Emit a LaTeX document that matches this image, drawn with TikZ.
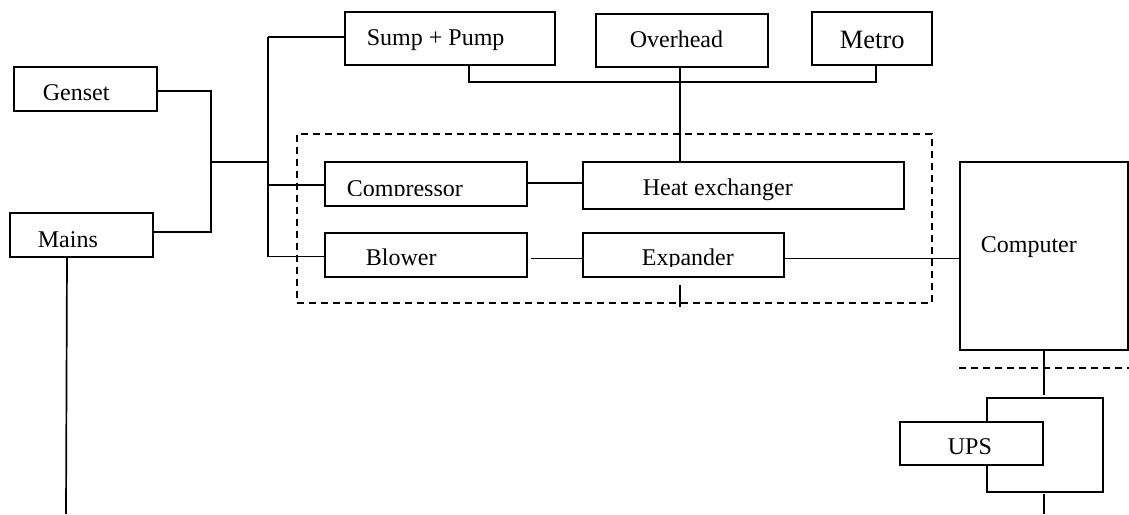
\documentclass[tikz,border=0pt]{standalone}
\usepackage{fontspec}
\setmainfont{Liberation Serif}
\begin{document}
\begin{tikzpicture}[x=1pt,y=-1pt,
  line width=1.7pt,
  box/.style={draw, rectangle, inner sep=0pt, outer sep=0pt, anchor=north west},
  upsbox/.style={box, fill=white},
  dashbox/.style={draw, rectangle, inner sep=0pt, outer sep=0pt, anchor=north west, dash pattern=on 7pt off 5pt},
  lbl/.style={anchor=base west, inner sep=0pt, font=\fontsize{24}{28}\selectfont},
  biglbl/.style={lbl, font=\fontsize{26.5}{30}\selectfont}]
\useasboundingbox (0,0) rectangle (1129,514);

% plant boundary
\node[dashbox, minimum width=635pt, minimum height=169pt] (plant) at (297,134) {};

% boxes
\node[box, minimum width=143pt, minimum height=44pt] (genset) at (14,67) {};
\node[box, minimum width=143pt, minimum height=44pt] (mains) at (10,213) {};
\node[box, minimum width=210pt, minimum height=53pt] (sump) at (345,12) {};
\node[box, minimum width=172pt, minimum height=53pt] (overhead) at (596,14) {};
\node[box, minimum width=120pt, minimum height=53pt] (metro) at (812,12) {};
\node[box, minimum width=202pt, minimum height=44pt] (compressor) at (325,162) {};
\node[box, minimum width=321pt, minimum height=47pt] (heat) at (583,162) {};
\node[box, minimum width=202pt, minimum height=44pt] (blower) at (325,233) {};
\node[box, minimum width=201pt, minimum height=44pt] (expander) at (583,233) {};
\node[box, minimum width=168pt, minimum height=188pt] (computer) at (960,162) {};
\node[box, minimum width=116pt, minimum height=94pt] (bypass) at (987,398) {};
\node[upsbox, minimum width=143pt, minimum height=43pt] (ups) at (900,422) {};

% labels
\node[lbl] (gensetlbl) at (42,100) {Genset};
\node[lbl] (mainslbl) at (37,247) {Mains};
\node[lbl] (sumplbl) at (366,45) {Sump + Pump};
\node[lbl] (overheadlbl) at (629,47) {Overhead};
\node[biglbl] (metrolbl) at (839,48) {Metro};
\begin{scope}
  \clip (325,150) rectangle (527,195.5);
  \node[lbl] (compressorlbl) at (346,196) {Compressor};
\end{scope}
\node[lbl] (heatlbl) at (642,195) {Heat exchanger};
\node[lbl] (blowerlbl) at (365,265) {Blower};
\begin{scope}
  \clip (583,220) rectangle (784,266);
  \node[lbl] (expanderlbl) at (641,265) {Expander};
\end{scope}
\node[lbl] (computerlbl) at (980,252) {Computer};
\node[lbl] (upslbl) at (947,454) {UPS};

% junction points
\coordinate (busA) at (211,162);
\coordinate (busB) at (268,162);
\coordinate (waterbus) at (680,82);
\coordinate (mainsend) at (66,514);
\coordinate (sepL) at (959,368);
\coordinate (sepR) at (1129,368);
\coordinate (upsout) at (1044,514);

% power feed
\draw ([yshift=-2pt]genset.east) -- ([yshift=-2pt]genset.east -| busA)
      -- ([yshift=3pt]mains.east -| busA) -- ([yshift=3pt]mains.east);
\draw (busA) -- (busB);
\draw ([yshift=1.5pt]sump.west -| busB) -- ([yshift=-1.5pt]blower.west -| busB);
\draw ([yshift=1.5pt]sump.west -| busB) -- ([yshift=1.5pt]sump.west);
\draw ([yshift=-1pt]compressor.west -| busB) -- ([yshift=-1pt]compressor.west);
\draw ([yshift=-1.5pt]blower.west -| busB) -- ([yshift=-1.5pt]blower.west);
\draw ([xshift=57pt]mains.south west) -- (mainsend);

% water supply
\draw ([xshift=124pt]sump.south west) |- (waterbus) -| ([xshift=4pt]metro.south);
\draw ([xshift=-2pt]overhead.south) -- ([xshift=-2pt]overhead.south |- heat.north);

% plant links
\draw ([yshift=1pt]compressor.east) -- ([yshift=1pt]compressor.east -| heat.west);
\draw ([shift={(4pt,-3.5pt)}]blower.east) -- ([yshift=-3.5pt]expander.west);
\draw ([yshift=-3.5pt]expander.east) -- ([yshift=-3.5pt]expander.east -| computer.west);
\draw ([shift={(-3.5pt,-8pt)}]expander.south) -- ++(0,22);

% computer and UPS
\draw[dash pattern=on 7pt off 5pt] (sepL) -- (sepR);
\draw[shorten >=3pt] (computer.south) -- (computer.south |- bypass.north);
\draw[shorten <=1.5pt] (upsout |- bypass.south) -- (upsout);
\end{tikzpicture}
\end{document}
